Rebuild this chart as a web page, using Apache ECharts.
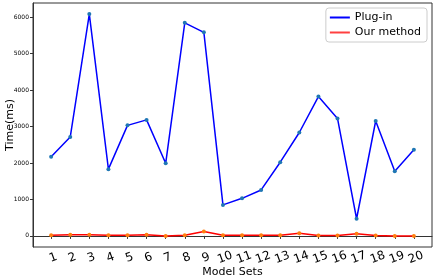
<!DOCTYPE html>
<html>
<head>
<meta charset="utf-8">
<script src="https://cdn.jsdelivr.net/npm/echarts@6/dist/echarts.min.js"></script>
<style>html,body{margin:0;padding:0;background:#fff}#c{width:436px;height:280px}</style>
</head>
<body>
<div id="c"></div>
<script>
var modelSets = [1,2,3,4,5,6,7,8,9,10,11,12,13,14,15,16,17,18,19,20];
var plugIn = [2170,2710,6080,1830,3030,3180,1990,5840,5580,850,1030,1260,2020,2835,3820,3220,470,3150,1770,2360];
var ourMethod = [20,30,30,20,20,30,0,20,120,20,20,20,20,70,10,10,60,10,0,0];
var yTicks = [0,1000,2000,3000,4000,5000,6000];

var chart = echarts.init(document.getElementById('c'), null, {renderer:'canvas'});
function pairs(vals){ return modelSets.map(function(x,i){ return [x, vals[i]]; }); }
var axisCol = '#333';
chart.setOption({
  animation:false,
  grid:{left:33,right:4,top:3,bottom:33,show:true,borderColor:axisCol,borderWidth:1,containLabel:false,outerBoundsMode:'none'},
  legend:{
    right:9, top:8, orient:'vertical', itemGap:4,
    borderColor:'#ccc', borderWidth:1, borderRadius:3, padding:[4,6,4,4],
    itemWidth:20, itemHeight:2, icon:'rect',
    textStyle:{fontFamily:'DejaVu Sans', fontSize:11, color:'#000'},
    data:[{name:'Plug-in', itemStyle:{color:'#0000ff'}},{name:'Our method', itemStyle:{color:'#ff4040'}}]
  },
  xAxis:{
    type:'value', min:0.05, max:20.95,
    name:'Model Sets', nameLocation:'middle', nameGap:20, nameMoveOverlap:false,
    nameTextStyle:{fontFamily:'DejaVu Sans', fontSize:11, color:'#000'},
    splitLine:{show:false},
    axisLine:{lineStyle:{color:axisCol}},
    axisTick:{show:true, customValues:modelSets, length:3, lineStyle:{color:axisCol}},
    axisLabel:{customValues:modelSets, rotate:20, align:'center', verticalAlign:'top', fontFamily:'DejaVu Sans', fontSize:12, color:'#000', margin:5}
  },
  yAxis:{
    type:'value', min:-304, max:6384,
    name:'Time(ms)', nameLocation:'middle', nameGap:17, nameMoveOverlap:false,
    nameTextStyle:{fontFamily:'DejaVu Sans', fontSize:11, color:'#000'},
    splitLine:{show:false},
    axisLine:{show:true, lineStyle:{color:axisCol}},
    axisTick:{show:true, customValues:yTicks, length:3, lineStyle:{color:axisCol}},
    axisLabel:{customValues:yTicks, formatter:function(v){return String(v);}, fontFamily:'DejaVu Sans', fontSize:6, color:'#000', margin:4}
  },
  series:[
    {name:'Plug-in', type:'line', data:pairs(plugIn), symbol:'circle', symbolSize:4,
     lineStyle:{color:'#0000ff', width:1.5}, itemStyle:{color:'#1f77b4'}},
    {name:'Our method', type:'line', data:pairs(ourMethod), symbol:'circle', symbolSize:4,
     lineStyle:{color:'#ff0000', width:1.5}, itemStyle:{color:'#ff7f0e'}}
  ]
});
</script>
</body>
</html>
